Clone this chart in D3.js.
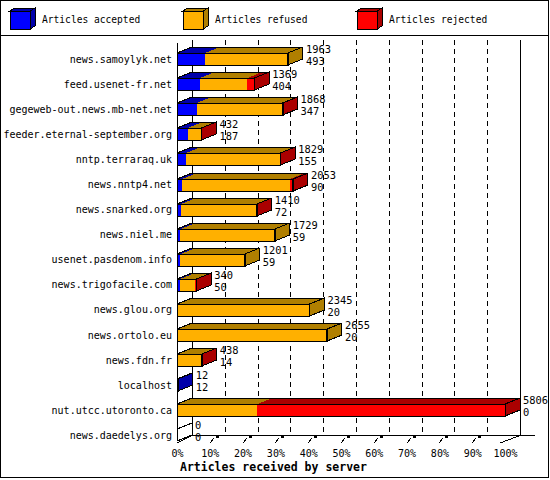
<!DOCTYPE html>
<html><head><meta charset="utf-8">
<script src="https://cdn.jsdelivr.net/npm/d3@7"></script>
<style>body{margin:0;background:#fff}svg{display:block}</style>
</head><body>
<svg id="c" width="550" height="480"></svg>
<script>
const servers = ["news.samoylyk.net","feed.usenet-fr.net","gegeweb-out.news.mb-net.net","feeder.eternal-september.org","nntp.terraraq.uk","news.nntp4.net","news.snarked.org","news.niel.me","usenet.pasdenom.info","news.trigofacile.com","news.glou.org","news.ortolo.eu","news.fdn.fr","localhost","nut.utcc.utoronto.ca","news.daedelys.org"];
const received = [1963,1369,1868,432,1829,2053,1410,1729,1201,340,2345,2655,438,12,5806,0];
const accepted = [493,404,347,187,155,90,72,59,59,50,20,20,14,12,0,0];
const refused  = [1470,840,1506,233,1664,1913,1318,1670,1142,275,2325,2635,409,0,1421,0];
const rejected = [0,125,15,12,10,50,20,0,0,15,0,0,15,0,4385,0];
const tickLabels = ["0%","10%","20%","30%","40%","50%","60%","70%","80%","90%","100%"];
const legendLabels = ["Articles accepted","Articles refused","Articles rejected"];
const xTitle = "Articles received by server";

const light = ["#0000ff","#ffb000","#ff0000"];
const dark  = ["#0000aa","#b07f00","#aa0000"];
const FONT = "'DejaVu Sans Mono', monospace";

const svg = d3.select("#c").attr("shape-rendering","crispEdges");
const X0 = 177, X1 = 505, DX = 15, DY = 6, FLOOR = 441, TOP = 46, HB = 6;
const x = d3.scaleLinear().domain([0, d3.max(received)]).range([X0, X1]);
const pct = d3.scaleLinear().domain([0, 100]).range([X0, X1]);
const y = d3.scalePoint().domain(servers).range([59.3, 435]);

// border and legend separator
svg.append("rect").attr("x",0.5).attr("y",0.5).attr("width",548).attr("height",477)
  .attr("fill","none").attr("stroke","#000");
svg.append("line").attr("x1",0).attr("x2",549).attr("y1",35.5).attr("y2",35.5).attr("stroke","#000");

// legend
const legX = [10, 183, 357];
legendLabels.forEach((t,i)=>{
  const g = svg.append("g");
  const lx = legX[i], ly = 11, w = 20, h = 18, d = 5, e = 3;
  g.append("polygon").attr("points",[[lx,ly],[lx+d,ly-e],[lx+w+d,ly-e],[lx+w,ly]].join(" "))
    .attr("fill",dark[i]).attr("stroke","#000");
  g.append("polygon").attr("points",[[lx+w,ly],[lx+w+d,ly-e],[lx+w+d,ly+h-e],[lx+w,ly+h]].join(" "))
    .attr("fill",dark[i]).attr("stroke","#000");
  g.append("rect").attr("x",lx+0.5).attr("y",ly+0.5).attr("width",w).attr("height",h)
    .attr("fill",light[i]).attr("stroke","#000");
  g.append("text").attr("x",lx+32).attr("y",20).attr("dy","0.35em")
    .attr("font-family",FONT).attr("font-size",9.6).text(t);
});

// back plane gridlines
d3.range(10,100,10).forEach(p=>{
  svg.append("line").attr("x1",Math.round(pct(p)+DX)+0.5).attr("x2",Math.round(pct(p)+DX)+0.5)
    .attr("y1",TOP-DY).attr("y2",FLOOR-DY).attr("stroke","#000").attr("stroke-dasharray","5,4");
});
// frame lines
const ln = (x1,y1,x2,y2)=>svg.append("line").attr("x1",x1).attr("y1",y1).attr("x2",x2).attr("y2",y2).attr("stroke","#000");
ln(X0+0.5, 43, X0+0.5, FLOOR);
ln(X0+DX+0.5, TOP-DY, X0+DX+0.5, FLOOR-DY);
ln(X1+DX+0.5, TOP-DY, X1+DX+0.5, FLOOR-DY);
ln(X0, FLOOR+2, X0+DX, FLOOR-DY+0.5);
ln(X0+DX, FLOOR-DY+0.5, X1+DX+15, FLOOR-DY+0.5);
ln(X1-5, FLOOR+2, X1+DX, FLOOR-DY+0.5);
// floor ticks
d3.range(10,100,10).forEach(p=>{
  const fx = Math.round(pct(p));
  ln(fx, FLOOR+2, fx+4, FLOOR-3);
  svg.append("rect").attr("x",fx+6).attr("y",FLOOR-6).attr("width",3).attr("height",3).attr("fill","#000");
});

// bars
servers.forEach((s,i)=>{
  const c = Math.round(y(s));
  const segs = [accepted[i], refused[i], rejected[i]];
  const g = svg.append("g");
  let cum = 0, last = -1;
  segs.forEach((v,k)=>{
    if (v <= 0) return;
    const xa = x(cum), xb = x(cum+v);
    g.append("rect").attr("x",xa).attr("y",c-HB).attr("width",xb-xa).attr("height",2*HB)
      .attr("fill",light[k]);
    g.append("polygon").attr("points",[[xa,c-HB],[xb,c-HB],[xb+DX,c-HB-DY],[xa+DX,c-HB-DY]].join(" "))
      .attr("fill",dark[k]);
    cum += v; last = k;
  });
  const xe = x(received[i]);
  g.append("polygon").attr("points",[[xe,c-HB],[xe+DX,c-HB-DY],[xe+DX,c+HB-DY],[xe,c+HB]].join(" "))
    .attr("fill", last>=0 ? dark[last] : "#fff").attr("stroke","#000");
  g.append("polygon").attr("points",[[X0,c-HB],[xe,c-HB],[xe+DX,c-HB-DY],[X0+DX,c-HB-DY]].join(" "))
    .attr("fill","none").attr("stroke","#000");
  g.append("rect").attr("x",X0+0.5).attr("y",c-HB+0.5).attr("width",Math.max(0,xe-X0)).attr("height",2*HB)
    .attr("fill","none").attr("stroke","#000");
  g.append("text").attr("x",xe+DX+3).attr("y",c-9.5).attr("dy","0.35em")
    .attr("font-family",FONT).attr("font-size",10.4).text(received[i]);
  g.append("text").attr("x",xe+DX+3).attr("y",c+2).attr("dy","0.35em")
    .attr("font-family",FONT).attr("font-size",10.4).text(accepted[i]);
});

// axes (labels)
const ay = svg.append("g").attr("transform",`translate(${X0-5},0)`)
  .call(d3.axisLeft(y).tickSize(0).tickPadding(0));
ay.select(".domain").remove();
ay.selectAll("text").attr("font-family",FONT).attr("font-size",10).attr("fill","#000");

const ax = svg.append("g").attr("transform","translate(0,453)")
  .call(d3.axisBottom(pct).tickValues(d3.range(0,101,10)).tickFormat((d,i)=>tickLabels[i]).tickSize(0));
ax.select(".domain").remove();
ax.selectAll("text").attr("y",0).attr("dy","0.35em").attr("font-family",FONT).attr("font-size",10).attr("fill","#000");

svg.append("text").attr("x",180).attr("y",467).attr("dy","0.35em")
  .attr("font-family",FONT).attr("font-weight","bold").attr("font-size",11.5).text(xTitle);
</script>
</body></html>
